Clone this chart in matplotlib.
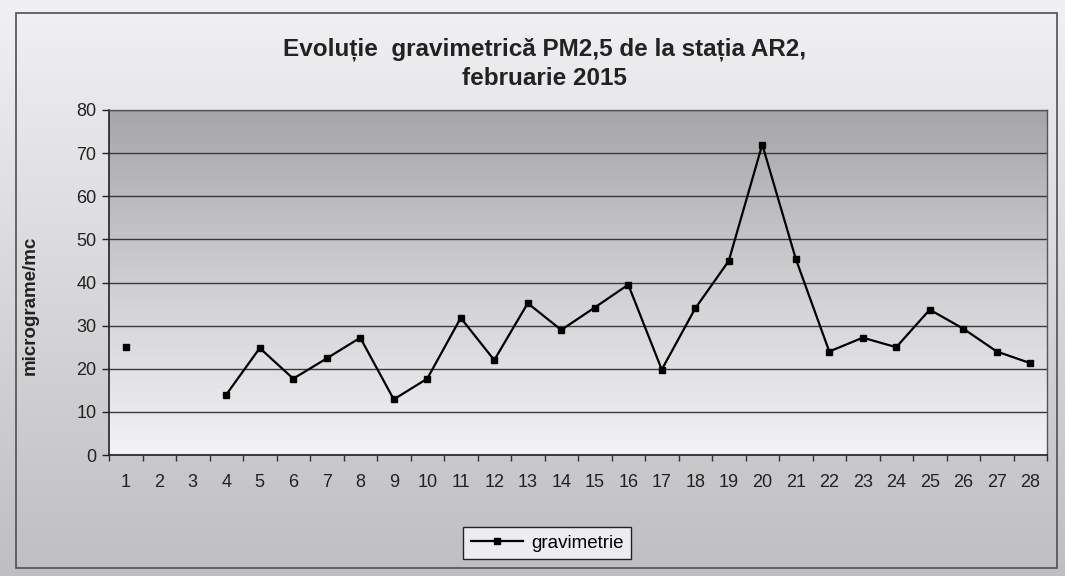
import numpy as np
import matplotlib
matplotlib.use('Agg')
import matplotlib.pyplot as plt
from matplotlib.colors import LinearSegmentedColormap
from matplotlib.patches import Rectangle

# Data: PM2.5 gravimetric values, station AR2, February 2015
days = list(range(1, 29))
gravimetrie = [25.0, np.nan, np.nan, 14.0, 24.8, 17.7, 22.4, 27.2, 12.9, 17.7,
               31.8, 22.0, 35.2, 29.0, 34.2, 39.5, 19.8, 34.0, 45.0, 72.0,
               45.5, 24.0, 27.2, 25.0, 33.7, 29.3, 24.0, 21.3]
y_ticks = [0, 10, 20, 30, 40, 50, 60, 70, 80]

title = 'Evoluție  gravimetrică PM2,5 de la stația AR2,\nfebruarie 2015'
ylabel = 'micrograme/mc'
series_name = 'gravimetrie'

plt.rcParams['font.family'] = ['Liberation Sans', 'DejaVu Sans']

fig = plt.figure(figsize=(10.65, 5.76), dpi=100)

# background of the chart area (light at top, greyer at bottom)
bg = fig.add_axes([0, 0, 1, 1], zorder=-10)
bg_cmap = LinearSegmentedColormap.from_list('bg', ['#bfbfc1', '#d8d8da', '#f1f1f4'])
bg.imshow(np.linspace(0, 1, 256).reshape(-1, 1), cmap=bg_cmap, aspect='auto',
          extent=[0, 1, 0, 1], origin='lower')
bg.add_patch(Rectangle((16 / 1065, 1 - 568 / 576), (1057 - 16) / 1065, (568 - 13) / 576,
                       fill=False, edgecolor='#505050', lw=1.2))
bg.set_xlim(0, 1)
bg.set_ylim(0, 1)
bg.axis('off')

ax = fig.add_axes([109 / 1065, 1 - 455 / 576, (1047 - 109) / 1065, (455 - 110) / 576])
ax.set_facecolor('none')

# plot area gradient: grey at top, almost white at bottom
pa_cmap = LinearSegmentedColormap.from_list('pa', ['#f3f3f6', '#cfcfd2', '#a6a6a8'])
ax.imshow(np.linspace(0, 1, 256).reshape(-1, 1), cmap=pa_cmap, aspect='auto',
          extent=[0.5, 28.5, 0, 80], origin='lower', zorder=0)

ax.plot(days, gravimetrie, color='black', lw=1.6, marker='s', markersize=5,
        markerfacecolor='black', markeredgecolor='black', label=series_name, zorder=3)

ax.set_xlim(0.5, 28.5)
ax.set_ylim(0, 80)
ax.set_yticks(y_ticks)
ax.set_xticks(days)
ax.set_xticks(np.arange(0.5, 29, 1), minor=True)
ax.tick_params(axis='x', which='major', length=0, pad=14, labelsize=13, colors='#222222')
ax.tick_params(axis='x', which='minor', length=4, width=1, direction='out', color='#333333')
ax.tick_params(axis='y', length=5, width=1, direction='out', pad=4, labelsize=13,
               colors='#222222')

ax.set_axisbelow(True)
ax.grid(axis='y', color='#3a3a3a', lw=1.0)
ax.grid(axis='x', visible=False)

for side in ['left', 'bottom']:
    ax.spines[side].set_color('#222222')
    ax.spines[side].set_linewidth(1.2)
for side in ['top', 'right']:
    ax.spines[side].set_color('#555555')
    ax.spines[side].set_linewidth(1.0)

ax.set_ylabel(ylabel, fontsize=13.5, fontweight='bold', color='#222222')
ax.yaxis.set_label_coords(-0.075, 0.435)

fig.text(0.511, 0.889, title, ha='center', va='center', fontsize=17.5,
         fontweight='bold', color='#222222', linespacing=1.3)

leg = ax.legend(loc='center', bbox_to_anchor=(547 / 1065, 1 - 543 / 576),
                bbox_transform=fig.transFigure, fontsize=13.5, frameon=True,
                fancybox=False, handlelength=2.8, borderpad=0.4, handletextpad=0.4)
leg.get_frame().set_edgecolor('#222222')
leg.get_frame().set_facecolor('#ededf0')
leg.get_frame().set_linewidth(1.0)
leg.get_frame().set_alpha(1)

fig.savefig('out.png', dpi=100)
